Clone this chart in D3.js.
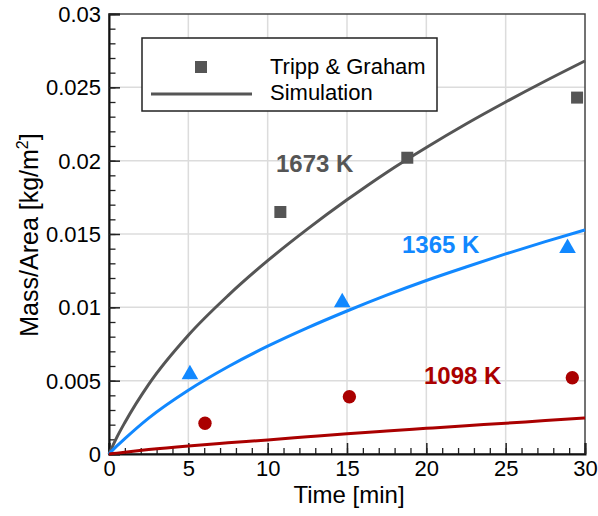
<!DOCTYPE html>
<html><head><meta charset="utf-8">
<script src="https://cdn.jsdelivr.net/npm/d3@7"></script>
<style>body{margin:0;background:#fff}svg{display:block}text{font-family:"Liberation Sans",Arial,Helvetica,sans-serif}</style>
</head><body><svg id="c" width="598" height="516"></svg>
<script>
// Simulation curves (time in min, mass/area in kg/m^2)
const simTime = [0, 0.5, 1, 2.5, 5, 7.5, 10, 12.5, 15, 17.5, 20, 22.5, 25, 27.5, 30];
const sim1673 = [0, 0.00115, 0.00215, 0.00475, 0.0081, 0.0108, 0.01318, 0.01533, 0.01733, 0.0192, 0.0209, 0.0225, 0.0240, 0.02543, 0.0268];
const sim1365 = [0, 0.00055, 0.00105, 0.00245, 0.00435, 0.00595, 0.00735, 0.0086, 0.00975, 0.01083, 0.01183, 0.01275, 0.01364, 0.01448, 0.01528];
const sim1098 = [0, 0.00006, 0.00012, 0.0003, 0.00055, 0.00076, 0.00096, 0.00117, 0.00138, 0.00157, 0.00175, 0.00193, 0.0021, 0.00228, 0.00245];
// Tripp & Graham experimental points
const exp1673Time = [10.8, 18.8, 29.5];
const exp1673 = [0.0165, 0.0202, 0.0243];
const exp1365Time = [5.1, 14.7, 28.9];
const exp1365 = [0.0055, 0.0104, 0.0141];
const exp1098Time = [6.05, 15.15, 29.2];
const exp1098 = [0.0021, 0.0039, 0.0052];
const xTicks = [0, 5, 10, 15, 20, 25, 30];
const yTicks = [0, 0.005, 0.01, 0.015, 0.02, 0.025, 0.03];
const yTickLabels = ["0", "0.005", "0.01", "0.015", "0.02", "0.025", "0.03"];
const seriesNames = ["1673 K", "1365 K", "1098 K"];
const legendLabels = ["Tripp & Graham", "Simulation"];

const W = 598, H = 516, m = {l:109, r:13, t:14, b:62};
const svg = d3.select("#c");
const x = d3.scaleLinear().domain([0, 30]).range([m.l, W - m.r]);
const y = d3.scaleLinear().domain([0, 0.03]).range([H - m.b, m.t]);

// grid
const g = svg.append("g");
g.selectAll(".vx").data(xTicks.slice(1, -1)).join("line")
  .attr("x1", d => x(d)).attr("x2", d => x(d)).attr("y1", y(0)).attr("y2", y(0.03))
  .attr("stroke", "#dcdcdc").attr("stroke-width", 1.5);
g.selectAll(".hy").data(yTicks.slice(1, -1)).join("line")
  .attr("y1", d => y(d)).attr("y2", d => y(d)).attr("x1", x(0)).attr("x2", x(30))
  .attr("stroke", "#dcdcdc").attr("stroke-width", 1.5);

// frame
svg.append("rect").attr("x", x(0)).attr("y", y(0.03)).attr("width", x(30) - x(0)).attr("height", y(0) - y(0.03))
  .attr("fill", "none").attr("stroke", "#444").attr("stroke-width", 1.5);

// axes
const xMinor = d3.range(0, 31, 1);
const yMinor = d3.range(0, 31, 1).map(d => d / 1000);
const xAxis = svg.append("g").attr("transform", `translate(0,${y(0)})`)
  .call(d3.axisBottom(x).tickValues(xMinor).tickSize(-6).tickFormat(""));
xAxis.select(".domain").remove();
xAxis.selectAll("line").attr("stroke", "#222").attr("stroke-width", 1.3);
const xMaj = svg.append("g").attr("transform", `translate(0,${y(0)})`)
  .call(d3.axisBottom(x).tickValues(xTicks).tickSize(-11).tickFormat(d3.format("d")));
xMaj.select(".domain").attr("stroke", "#111").attr("stroke-width", 2);
xMaj.selectAll("line").attr("stroke", "#222").attr("stroke-width", 1.5);
xMaj.selectAll("text").attr("font-size", 22).attr("fill", "#000").attr("dy", "0.71em").attr("y", 6);

const yAxis = svg.append("g").attr("transform", `translate(${x(0)},0)`)
  .call(d3.axisLeft(y).tickValues(yMinor).tickSize(-6.5).tickFormat(""));
yAxis.select(".domain").remove();
yAxis.selectAll("line").attr("stroke", "#222").attr("stroke-width", 1.3);
const yMaj = svg.append("g").attr("transform", `translate(${x(0)},0)`)
  .call(d3.axisLeft(y).tickValues(yTicks).tickSize(-11).tickFormat((d, i) => yTickLabels[i]));
yMaj.select(".domain").attr("stroke", "#111").attr("stroke-width", 2);
yMaj.selectAll("line").attr("stroke", "#222").attr("stroke-width", 1.5);
yMaj.selectAll("text").attr("font-size", 22).attr("fill", "#000").attr("x", -8).attr("dy", "0.34em");

// axis titles
svg.append("text").attr("x", (x(0) + x(30)) / 2 + 2).attr("y", 503).attr("text-anchor", "middle")
  .attr("font-size", 24).text("Time [min]");
const yt = svg.append("text").attr("transform", `translate(38,${(y(0) + y(0.03)) / 2 + 1}) rotate(-90)`)
  .attr("text-anchor", "middle").attr("font-size", 25);
yt.append("tspan").text("Mass/Area [kg/m");
yt.append("tspan").attr("font-size", 16).attr("dy", -10).text("2");
yt.append("tspan").attr("dy", 10).text("]");

// curves
const colors = ["#555555", "#1188ff", "#aa0000"];
const sims = [sim1673, sim1365, sim1098];
const line = d3.line().x(d => x(d[0])).y(d => y(d[1])).curve(d3.curveMonotoneX);
sims.forEach((s, i) => {
  svg.append("path").datum(simTime.map((t, j) => [t, s[j]]))
    .attr("d", line).attr("fill", "none").attr("stroke", colors[i]).attr("stroke-width", 3);
});

// markers
const sq = d3.symbol().type(d3.symbolSquare).size(144);
const tri = d3.symbol().type(d3.symbolTriangle).size(120);
const circ = d3.symbol().type(d3.symbolCircle).size(140);
const exps = [[exp1673Time, exp1673, sq], [exp1365Time, exp1365, tri], [exp1098Time, exp1098, circ]];
exps.forEach(([ts, vs, sym], i) => {
  svg.append("g").selectAll("path").data(ts.map((t, j) => [t, vs[j]])).join("path")
    .attr("d", sym).attr("transform", d => `translate(${x(d[0])},${y(d[1]) + (i === 1 ? 1 : 0)})`)
    .attr("fill", colors[i]);
});

// series labels
const labelPos = [[276, 172], [402, 253], [424, 384]];
seriesNames.forEach((n, i) => {
  svg.append("text").attr("x", labelPos[i][0]).attr("y", labelPos[i][1])
    .attr("font-size", 24).attr("font-weight", "bold").attr("fill", colors[i]).text(n);
});

// legend
const lg = svg.append("g");
lg.append("rect").attr("x", 142).attr("y", 38).attr("width", 295).attr("height", 73)
  .attr("fill", "#fff").attr("stroke", "#222").attr("stroke-width", 1.5);
lg.append("rect").attr("x", 195).attr("y", 61).attr("width", 12).attr("height", 12).attr("fill", colors[0]);
lg.append("line").attr("x1", 151).attr("x2", 252).attr("y1", 94).attr("y2", 94)
  .attr("stroke", colors[0]).attr("stroke-width", 3);
lg.append("text").attr("x", 270).attr("y", 74).attr("font-size", 22).text(legendLabels[0]);
lg.append("text").attr("x", 270).attr("y", 100).attr("font-size", 22).text(legendLabels[1]);
</script></body></html>
